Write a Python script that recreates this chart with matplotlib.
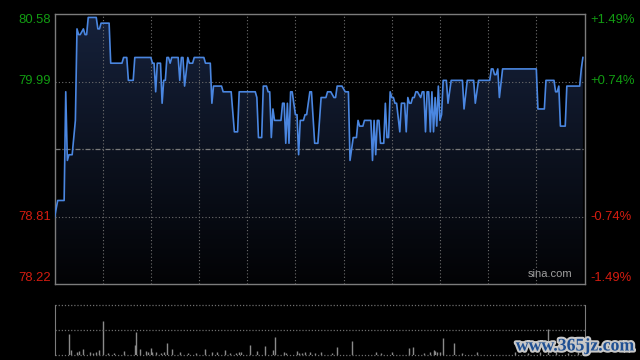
import numpy as np
import matplotlib
matplotlib.use("Agg")
import matplotlib.pyplot as plt
import matplotlib.patheffects as pe
from matplotlib.patches import Polygon
from matplotlib.transforms import blended_transform_factory

plt.rcParams['font.family'] = ['Liberation Sans Narrow', 'Liberation Sans', 'DejaVu Sans']

# intraday session: 330 trading minutes, gridline every half hour
session_minutes = 330
half_hours = [30, 60, 90, 120, 150, 180, 210, 240, 270, 300]
prev_close = 79.40
y_low, y_high = 78.22, 80.58

# (minute, price) where the price changes
price_points = [
    (0, 78.80), (2, 78.95), (6, 78.95), (7, 79.90), (8, 79.30), (9, 79.35), (11, 79.35),
    (13, 79.65), (14, 80.45), (15, 80.40), (16, 80.40), (18, 80.45), (19, 80.40), (20, 80.40),
    (21, 80.55), (26, 80.55), (27, 80.45), (28, 80.45), (29, 80.50), (34, 80.50), (35, 80.15),
    (42, 80.15), (43, 80.20), (45, 80.20), (46, 80.00), (49, 80.00), (50, 80.20), (60, 80.20),
    (61, 80.15), (62, 80.15), (63, 79.90), (64, 80.15), (66, 80.15), (67, 79.80), (68, 80.00),
    (69, 80.00), (70, 80.20), (71, 80.20), (72, 80.15), (73, 80.20), (77, 80.20), (78, 80.00),
    (79, 80.20), (80, 80.20), (81, 79.95), (83, 80.20), (84, 80.15), (86, 80.15), (87, 80.20),
    (93, 80.20), (94, 80.15), (97, 80.15), (98, 79.80), (99, 79.95), (104, 79.95), (105, 79.90),
    (110, 79.90), (112, 79.55), (114, 79.55), (115, 79.90), (125, 79.90), (126, 79.85),
    (127, 79.50), (129, 79.50), (130, 79.95), (132, 79.95), (133, 79.90), (134, 79.90),
    (135, 79.50), (136, 79.75), (137, 79.65), (141, 79.65), (142, 79.80), (143, 79.80),
    (144, 79.45), (145, 79.80), (146, 79.45), (147, 79.90), (148, 79.90), (150, 79.70),
    (151, 79.70), (152, 79.35), (153, 79.65), (155, 79.65), (156, 79.70), (157, 79.70),
    (159, 79.90), (160, 79.90), (162, 79.45), (164, 79.45), (166, 79.85), (169, 79.85),
    (170, 79.90), (172, 79.90), (174, 79.85), (175, 79.85), (176, 79.95), (179, 79.95),
    (181, 79.90), (183, 79.90), (184, 79.30), (186, 79.50), (188, 79.50), (189, 79.65),
    (190, 79.60), (192, 79.60), (193, 79.65), (197, 79.65), (198, 79.30), (199, 79.65),
    (200, 79.35), (201, 79.65), (202, 79.65), (203, 79.45), (205, 79.45), (206, 79.80),
    (207, 79.50), (208, 79.50), (209, 79.90), (210, 79.85), (211, 79.85), (212, 79.80),
    (213, 79.80), (215, 79.55), (216, 79.80), (218, 79.80), (219, 79.55), (220, 79.85),
    (221, 79.80), (222, 79.80), (223, 79.85), (224, 79.85), (225, 79.90), (226, 79.90),
    (228, 79.85), (229, 79.90), (230, 79.90), (231, 79.55), (232, 79.90), (233, 79.90),
    (234, 79.55), (235, 79.90), (236, 79.55), (237, 79.85), (238, 79.60), (239, 79.95),
    (240, 79.65), (241, 79.70), (242, 80.00), (244, 80.00), (245, 79.80), (247, 80.00),
    (254, 80.00), (255, 79.75), (257, 80.00), (261, 80.00), (262, 79.80), (264, 80.00),
    (271, 80.00), (272, 80.10), (273, 80.10), (274, 80.05), (275, 80.05), (276, 80.10),
    (277, 79.85), (279, 80.10), (300, 80.10), (301, 79.75), (305, 79.75), (306, 80.00),
    (311, 80.00), (312, 79.90), (313, 79.90), (314, 79.95), (315, 79.60), (318, 79.60),
    (319, 79.95), (327, 79.95), (328, 80.10), (329, 80.20),
]

# (minute, volume in lots) for visible volume bars
volume_points = [
    (9, 2100), (10, 500), (14, 300), (15, 400), (18, 600), (22, 300), (24, 200), (26, 300),
    (28, 500), (30, 3400), (33, 200), (37, 250), (43, 400), (50, 1000), (51, 2300), (53, 600),
    (57, 400), (58, 300), (60, 700), (61, 300), (63, 300), (66, 200), (68, 300), (70, 1200),
    (73, 600), (78, 300), (83, 200), (88, 200), (94, 600), (98, 300), (101, 300), (106, 500),
    (109, 200), (113, 200), (115, 300), (116, 300), (122, 1000), (126, 400), (131, 900),
    (136, 500), (137, 1800), (143, 300), (144, 200), (151, 400), (152, 200), (154, 200),
    (156, 300), (159, 300), (162, 200), (166, 300), (173, 250), (176, 800), (185, 1400),
    (200, 300), (203, 200), (210, 300), (221, 700), (223, 800), (230, 200), (234, 300),
    (236, 500), (237, 400), (238, 300), (240, 300), (242, 1700), (249, 1200), (254, 200),
    (263, 300), (287, 300), (295, 200), (302, 300), (307, 2600), (312, 300), (320, 200),
    (326, 300),
]
volume_max = 5000

left_values = [80.58, 79.99, 78.81, 78.22]
left_labels = ['80.58', '79.99', '78.81', '78.22']
right_labels = ['+1.49%', '+0.74%', '-0.74%', '-1.49%']
grid_prices = [79.99, 78.81]

minutes = np.array([m for m, _ in price_points])
prices = np.array([p for _, p in price_points])
vol_minutes = [m for m, _ in volume_points]
volumes = [v for _, v in volume_points]

fig = plt.figure(figsize=(6.4, 3.6), dpi=100, facecolor='black')
ax = fig.add_axes([54.5 / 640, 76 / 360, 530 / 640, 270 / 360], facecolor='black')

# gradient fill under the price line
grad = np.linspace(1, 0, 256).reshape(-1, 1, 1)
top_c = np.array([0.085, 0.13, 0.23])
bot_c = np.array([0.01, 0.012, 0.02])
img = bot_c + (top_c - bot_c) * grad
im = ax.imshow(img, extent=[0, session_minutes, y_low, y_high], aspect='auto',
               origin='upper', zorder=1, interpolation='bilinear')
poly = Polygon(np.column_stack([np.r_[minutes[0], minutes, minutes[-1]],
                                np.r_[y_low, prices, y_low]]),
               closed=True, facecolor='none', edgecolor='none')
ax.add_patch(poly)
im.set_clip_path(poly)

ax.plot(minutes, prices, color='#4a86e0', lw=1.2, zorder=3)

grid_kw = dict(color='#6e6e6e', lw=0.8, ls=(0, (1, 2)), zorder=2)
for m in half_hours:
    ax.axvline(m, **grid_kw)
for g in grid_prices:
    ax.axhline(g, **grid_kw)
ax.axhline(prev_close, color='#7a7a7a', lw=0.9, ls=(0, (4, 1.5, 1, 1.5)), zorder=2)

ax.set_xlim(0, session_minutes)
ax.set_ylim(y_low, y_high)
ax.set_xticks([])
ax.set_yticks([])
for s in ax.spines.values():
    s.set_color('#7c7c7c')
    s.set_linewidth(1)

trans = blended_transform_factory(ax.transAxes, ax.transData)
vas = ['top', 'center', 'center', 'bottom']
for val, ltxt, rtxt, va in zip(left_values, left_labels, right_labels, vas):
    col = '#129c12' if val > prev_close else '#d41c10'
    ax.text(-0.0066, val, ltxt, transform=trans, ha='right', va=va,
            color=col, fontsize=9.4)
    ax.text(1.0104, val, rtxt, transform=trans, ha='left', va=va,
            color=col, fontsize=9.4)

ax.text(0.978, 0.018, 'sina.com', transform=ax.transAxes, ha='right', va='bottom',
        color='#a0a0a0', fontsize=8, family=['Liberation Sans', 'DejaVu Sans'])

# volume panel
vax = fig.add_axes([54.5 / 640, 5 / 360, 530 / 640, 50 / 360], facecolor='black')
vax.vlines(vol_minutes, 0, volumes, color='#8a8a8a', lw=1)
vax.set_xlim(0, session_minutes)
vax.set_ylim(0, volume_max)
for y in [volume_max, volume_max / 2, 0]:
    vax.axhline(y, color='#6e6e6e', lw=0.9, ls=(0, (1, 1.5)), clip_on=False)
vax.set_xticks([])
vax.set_yticks([])
for side in ['top', 'bottom']:
    vax.spines[side].set_visible(False)
for side in ['left', 'right']:
    vax.spines[side].set_color('#7c7c7c')

fig.text(575 / 640, 1 - 346 / 360, 'www.365jz.com', ha='center', va='center',
         color='#1f4f92', fontsize=12.8, fontweight='bold',
         family=['Liberation Serif', 'DejaVu Serif'],
         path_effects=[pe.withStroke(linewidth=3, foreground='#c8c8c8')])

fig.savefig('out.png', dpi=100, facecolor='black')
